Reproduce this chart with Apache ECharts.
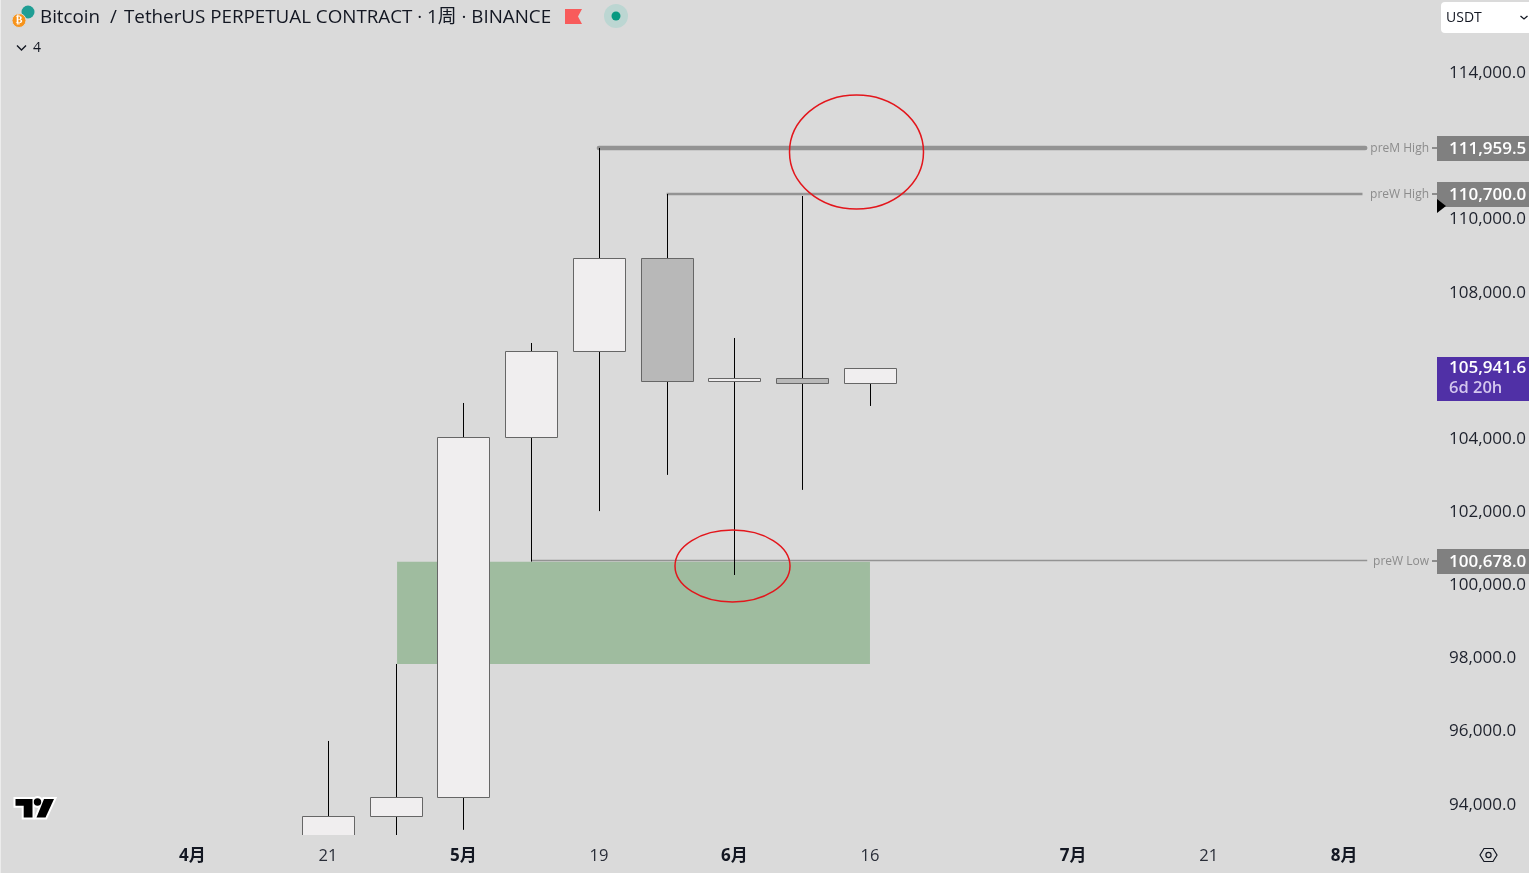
<!DOCTYPE html>
<html>
<head>
<meta charset="utf-8">
<title>BTCUSDT weekly</title>
<style>
  html, body { margin: 0; padding: 0; background: #dadada; }
  #chart { width: 1529px; height: 873px; }
</style>
<script src="https://cdn.jsdelivr.net/npm/echarts@6/dist/echarts.min.js"></script>
</head>
<body>
<div id="chart"></div>
<script>
const UI_FONT = '"Open Sans", "Noto Sans CJK SC", sans-serif'

// week number 0 = first week of April
const barWeeks = [2, 3, 4, 5, 6, 7, 8, 9, 10]
const opens = [92900, 93681, 94200, 104043, 106394, 108950, 105574, 105656, 105519]
const closes = [93681, 94200, 104043, 106394, 108950, 105574, 105656, 105519, 105941.6]
const lows = [92500, 93000, 93315, 100650, 102030, 103020, 100283, 102610, 104905]
const highs = [95745, 97850, 104986, 106626, 111959.5, 110700, 106763, 110645, 105941.6]

const tickWeeks = [0, 2, 4, 6, 8, 10, 13, 15, 17]
const tickLabels = ['4月', '21', '5月', '19', '6月', '16', '7月', '21', '8月']
const priceTicks = [94000, 96000, 98000, 100000, 102000, 104000, 106000, 108000, 110000, 112000, 114000]

const levelNames = ['preM High', 'preW High', 'preW Low']
const levelPrices = [111959.5, 110700, 100678]
const levelStartWeeks = [6, 7, 5]
const levelEndWeeks = [17.31, 17.27, 17.34]
const levelWidths = [4.5, 2.5, 1.5]

const zoneWeeks = [3.02, 10]
const zonePrices = [97850, 100645]
const lastPrice = 105941.6
const countdown = '6d 20h'

const fmtPrice = v => v.toLocaleString('en-US', {minimumFractionDigits: 1, maximumFractionDigits: 1})

const chart = echarts.init(document.getElementById('chart'), null, {renderer: 'canvas'})

const candleData = barWeeks.map((w, i) => [w, opens[i], closes[i], lows[i], highs[i]])

const renderCandle = (params, api) => {
  const week = api.value(0)
  const open = api.value(1)
  const close = api.value(2)
  const cx = Math.round(api.coord([week, open])[0]) + 0.5
  const w = api.size([1, 0])[0] * 0.77
  const top = Math.round(api.coord([week, Math.max(open, close)])[1]) + 0.5
  const bottom = Math.round(api.coord([week, Math.min(open, close)])[1]) + 0.5
  return {
    type: 'group',
    children: [
      {
        type: 'line',
        shape: {x1: cx, y1: api.coord([week, api.value(4)])[1], x2: cx, y2: api.coord([week, api.value(3)])[1]},
        style: {stroke: '#000', lineWidth: 1}
      },
      {
        type: 'rect',
        shape: {x: cx - Math.round(w / 2), y: top, width: Math.round(w), height: bottom - top},
        style: {fill: close >= open ? '#f0eeef' : '#b8b8b8', stroke: '#666', lineWidth: 1}
      }
    ]
  }
}

// grey price tag on the right axis, with the line's name and a little dash before it
const renderLevelTag = (params, api) => {
  const i = api.value(0)
  const y = Math.round(api.coord([0, api.value(1)])[1])
  const right = params.coordSys.x + params.coordSys.width
  return {
    type: 'group',
    children: [
      {type: 'rect', shape: {x: right, y: y - 12, width: 92, height: 25}, style: {fill: '#808080'}},
      {
        type: 'text',
        style: {
          x: right + 12, y: y + 1, text: fmtPrice(levelPrices[i]), fill: '#fff',
          font: '600 17px ' + UI_FONT, verticalAlign: 'middle', align: 'left'
        }
      },
      {
        type: 'text',
        style: {
          x: right - 8, y: y + 1, text: levelNames[i], fill: '#8c8c8c',
          font: '12px ' + UI_FONT, verticalAlign: 'middle', align: 'right'
        }
      },
      {type: 'rect', shape: {x: right - 5, y: y - 1, width: 5, height: 2}, style: {fill: '#8c8c8c'}}
    ]
  }
}

const renderLastTag = (params, api) => {
  const y = Math.round(api.coord([0, api.value(0)])[1])
  const right = params.coordSys.x + params.coordSys.width
  return {
    type: 'group',
    children: [
      {type: 'rect', shape: {x: right, y: y - 11, width: 92, height: 44}, style: {fill: '#5030a6'}},
      {
        type: 'text',
        style: {
          x: right + 12, y: y + 0.5, text: fmtPrice(api.value(0)), fill: '#fff',
          font: '600 17px ' + UI_FONT, verticalAlign: 'middle', align: 'left'
        }
      },
      {
        type: 'text',
        style: {
          x: right + 12, y: y + 20.5, text: countdown, fill: '#d3c6ee',
          font: '600 16.5px ' + UI_FONT, verticalAlign: 'middle', align: 'left'
        }
      }
    ]
  }
}

const levelLines = levelNames.map((name, i) => ({
  name,
  type: 'line',
  z: 3,
  symbol: 'none',
  silent: true,
  clip: false,
  data: [[levelStartWeeks[i], levelPrices[i]], [levelEndWeeks[i], levelPrices[i]]],
  lineStyle: {color: '#939393', width: levelWidths[i], cap: i === 0 ? 'round' : 'butt'}
}))

const tvBar = [[15.5, 799], [32.5, 799], [32.5, 817.5], [23.7, 817.5], [23.7, 805.7], [15.5, 805.7]]
const tvSlash = [[44, 799], [54, 799], [45.5, 817.5], [36.5, 817.5]]

const option = {
  animation: false,
  backgroundColor: '#dadada',
  grid: {left: 0, top: 0, width: 1437, height: 835, containLabel: false},
  xAxis: {
    type: 'value',
    min: -2.841,
    max: 18.37,
    splitLine: {show: false},
    axisLine: {show: false},
    axisTick: {show: false},
    axisLabel: {
      customValues: tickWeeks,
      margin: 13,
      formatter: v => {
        const label = tickLabels[tickWeeks.indexOf(v)]
        return label.includes('月') ? `{m|${label}}` : `{d|${label}}`
      },
      rich: {
        m: {fontFamily: UI_FONT, fontSize: 17, fontWeight: 700, color: '#131722'},
        d: {fontFamily: UI_FONT, fontSize: 16.5, color: '#2a2e39'}
      }
    }
  },
  yAxis: {
    type: 'value',
    position: 'right',
    min: 93174,
    max: 116004,
    splitLine: {show: false},
    axisLine: {show: false},
    axisTick: {show: false},
    axisLabel: {
      customValues: priceTicks,
      inside: false,
      margin: 12,
      align: 'left',
      color: '#1e222d',
      fontFamily: UI_FONT,
      fontSize: 17,
      formatter: v => (v === 106000 || v === 112000 ? '' : fmtPrice(v))
    }
  },
  series: [
    {
      name: 'zone',
      type: 'line',
      z: 1,
      data: [],
      silent: true,
      markArea: {
        silent: true,
        itemStyle: {color: '#9fbc9f', opacity: 1},
        data: [[{coord: [zoneWeeks[0], zonePrices[1]]}, {coord: [zoneWeeks[1], zonePrices[0]]}]]
      }
    },
    ...levelLines,
    {
      name: 'candles',
      type: 'custom',
      z: 4,
      clip: true,
      silent: true,
      data: candleData,
      encode: {x: 0, y: [1, 2, 3, 4]},
      renderItem: renderCandle
    },
    {
      name: 'levelTags',
      type: 'custom',
      z: 5,
      silent: true,
      data: levelPrices.map((p, i) => [i, p]),
      encode: {y: 1},
      renderItem: renderLevelTag
    },
    {
      name: 'lastTag',
      type: 'custom',
      z: 5,
      silent: true,
      data: [[lastPrice]],
      encode: {y: 0},
      renderItem: renderLastTag
    }
  ],
  graphic: [
    // left edge of the screenshot
    {type: 'rect', z: 1, shape: {x: 0, y: 0, width: 1, height: 873}, style: {fill: '#ececec'}},
    // header
    {type: 'circle', z: 6, shape: {cx: 28, cy: 12, r: 6.5}, style: {fill: '#1f9e94'}},
    {type: 'circle', z: 6, shape: {cx: 19, cy: 20.5, r: 7}, style: {fill: '#f7931a', stroke: '#dadada', lineWidth: 1}},
    {type: 'text', z: 7, style: {x: 19, y: 20.5, text: '₿', fill: '#fff', font: '700 10px "DejaVu Sans"', align: 'center', verticalAlign: 'middle'}},
    {type: 'text', z: 6, style: {x: 40, y: 18, text: 'Bitcoin', fill: '#131722', font: '18.8px ' + UI_FONT, verticalAlign: 'middle'}},
    {type: 'text', z: 6, style: {x: 110, y: 18, text: '/', fill: '#131722', font: '18.8px ' + UI_FONT, verticalAlign: 'middle'}},
    {type: 'text', z: 6, style: {x: 124, y: 18, text: 'TetherUS PERPETUAL CONTRACT · 1周 · BINANCE', fill: '#131722', font: '18.8px ' + UI_FONT, verticalAlign: 'middle'}},
    {type: 'polygon', z: 6, shape: {points: [[565, 9], [582, 9], [578, 16.5], [582, 24], [565, 24]]}, style: {fill: '#f85b5b'}},
    {type: 'circle', z: 6, shape: {cx: 616, cy: 16, r: 12}, style: {fill: '#bcd6d2'}},
    {type: 'circle', z: 6, shape: {cx: 616, cy: 16, r: 4.5}, style: {fill: '#089981'}},
    {type: 'polyline', z: 6, shape: {points: [[17, 45.5], [21.5, 50], [26, 45.5]]}, style: {stroke: '#131722', lineWidth: 1.4, fill: null}},
    {type: 'text', z: 6, style: {x: 33, y: 48, text: '4', fill: '#131722', font: '14px ' + UI_FONT, verticalAlign: 'middle'}},
    // currency box
    {type: 'rect', z: 6, shape: {x: 1441, y: 2, width: 94, height: 31, r: 4}, style: {fill: '#fff'}},
    {type: 'text', z: 7, style: {x: 1446, y: 18.5, text: 'USDT', fill: '#131722', font: '14px ' + UI_FONT, verticalAlign: 'middle'}},
    {type: 'polyline', z: 7, shape: {points: [[1520.5, 16], [1524, 19], [1527.5, 16]]}, style: {stroke: '#131722', lineWidth: 1.3, fill: null}},
    // pointer on the price scale
    {type: 'polygon', z: 8, shape: {points: [[1437, 199], [1446, 206], [1437, 213]]}, style: {fill: '#000'}},
    // tradingview logo, white halo first and black shapes over it
    {type: 'polygon', z: 6, shape: {points: tvBar}, style: {fill: '#fff', stroke: '#fff', lineWidth: 4}},
    {type: 'polygon', z: 6, shape: {points: tvSlash}, style: {fill: '#fff', stroke: '#fff', lineWidth: 4}},
    {type: 'circle', z: 6, shape: {cx: 37.5, cy: 802, r: 6}, style: {fill: '#fff'}},
    {type: 'polygon', z: 7, shape: {points: tvBar}, style: {fill: '#000'}},
    {type: 'polygon', z: 7, shape: {points: tvSlash}, style: {fill: '#000'}},
    {type: 'circle', z: 7, shape: {cx: 37.5, cy: 802, r: 3.7}, style: {fill: '#000'}},
    // settings icon
    {type: 'polygon', z: 6, shape: {points: [[1480, 855], [1484, 848.5], [1493, 848.5], [1497, 855], [1493, 861.5], [1484, 861.5]]}, style: {stroke: '#131722', lineWidth: 1.2, fill: null}},
    {type: 'circle', z: 6, shape: {cx: 1488.5, cy: 855, r: 2.6}, style: {stroke: '#131722', lineWidth: 1.2, fill: null}},
    // hand drawn circles
    {type: 'ellipse', z: 9, shape: {cx: 856.5, cy: 152, rx: 67, ry: 57}, style: {stroke: '#e3161c', lineWidth: 1.5, fill: null}},
    {type: 'ellipse', z: 9, shape: {cx: 732.5, cy: 566, rx: 57.5, ry: 36}, style: {stroke: '#e3161c', lineWidth: 1.5, fill: null}}
  ]
}

chart.setOption(option)
</script>
</body>
</html>
